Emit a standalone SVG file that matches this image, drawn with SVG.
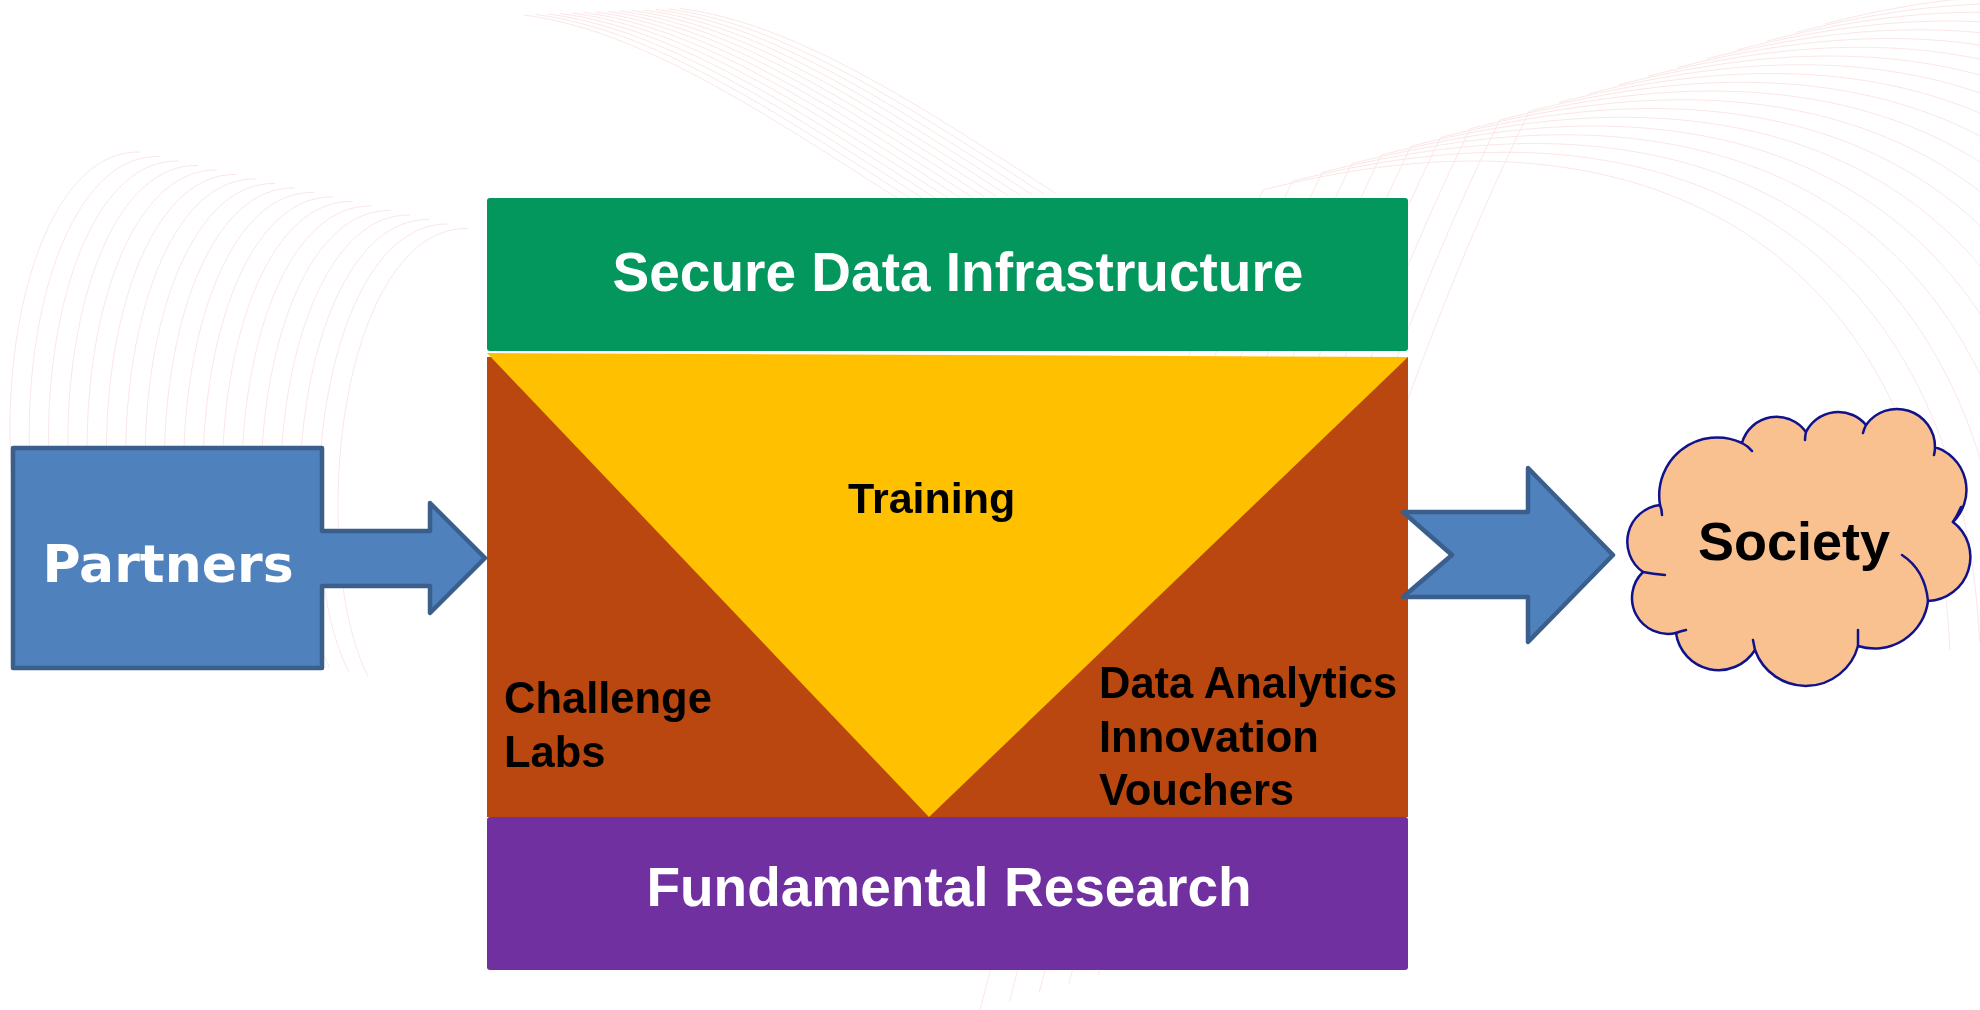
<svg xmlns="http://www.w3.org/2000/svg" xmlns:xlink="http://www.w3.org/1999/xlink" width="1980" height="1010" viewBox="0 0 1980 1010">
<style>
.sw{fill:none;stroke:#ef9a9a;stroke-width:1;opacity:.25}
.lbl{font-family:"Liberation Sans",Arial,sans-serif;font-weight:bold}
.w{fill:#ffffff}
.k{fill:#000000}
.blue{fill:#4f81bd;stroke:#3a5f8c;stroke-width:4.5;stroke-linejoin:round}
.cloud{fill:#f9c090;stroke:#10128c;stroke-width:2.5;stroke-linejoin:round}
.hook{fill:none;stroke:#10128c;stroke-width:2.5;stroke-linecap:round}
</style>
<defs>
<path id="swA" d="M140,152 C60,150 12,280 10,420 C9,500 20,560 40,600"/>
<path id="swB" d="M1263,190 C1650,90 1930,250 1950,650"/>
<path id="swC" d="M524,15 C640,30 760,110 900,200"/>
<path id="swD" d="M1263,190 C1150,420 1060,700 980,1010"/>
</defs>
<rect width="1980" height="1010" fill="#ffffff"/>
<g id="background">
<g class="sw">
<use xlink:href="#swA"/><use xlink:href="#swA" transform="translate(19.3,4.5)"/><use xlink:href="#swA" transform="translate(38.6,9)"/><use xlink:href="#swA" transform="translate(57.9,13.5)"/><use xlink:href="#swA" transform="translate(77.2,18)"/><use xlink:href="#swA" transform="translate(96.5,22.5)"/><use xlink:href="#swA" transform="translate(115.8,27)"/><use xlink:href="#swA" transform="translate(135.1,31.5)"/><use xlink:href="#swA" transform="translate(154.4,36)"/><use xlink:href="#swA" transform="translate(173.7,40.5)"/><use xlink:href="#swA" transform="translate(193,45)"/><use xlink:href="#swA" transform="translate(212.3,49.5)"/><use xlink:href="#swA" transform="translate(231.6,54)"/><use xlink:href="#swA" transform="translate(250.9,58.5)"/><use xlink:href="#swA" transform="translate(270.2,63)"/><use xlink:href="#swA" transform="translate(289.5,67.5)"/><use xlink:href="#swA" transform="translate(308.8,72)"/><use xlink:href="#swA" transform="translate(328.1,76.5)"/>
<use xlink:href="#swB"/><use xlink:href="#swB" transform="translate(29.6,-8.75)"/><use xlink:href="#swB" transform="translate(59.2,-17.5)"/><use xlink:href="#swB" transform="translate(88.8,-26.25)"/><use xlink:href="#swB" transform="translate(118.4,-35)"/><use xlink:href="#swB" transform="translate(148,-43.75)"/><use xlink:href="#swB" transform="translate(177.6,-52.5)"/><use xlink:href="#swB" transform="translate(207.2,-61.25)"/><use xlink:href="#swB" transform="translate(236.8,-70)"/><use xlink:href="#swB" transform="translate(266.4,-78.75)"/><use xlink:href="#swB" transform="translate(296,-87.5)"/><use xlink:href="#swB" transform="translate(325.6,-96.25)"/><use xlink:href="#swB" transform="translate(355.2,-105)"/><use xlink:href="#swB" transform="translate(384.8,-113.75)"/><use xlink:href="#swB" transform="translate(414.4,-122.5)"/><use xlink:href="#swB" transform="translate(444,-131.25)"/><use xlink:href="#swB" transform="translate(473.6,-140)"/><use xlink:href="#swB" transform="translate(503.2,-148.75)"/><use xlink:href="#swB" transform="translate(532.8,-157.5)"/><use xlink:href="#swB" transform="translate(562.4,-166.25)"/>
<use xlink:href="#swC"/><use xlink:href="#swC" transform="translate(12,-0.5)"/><use xlink:href="#swC" transform="translate(24,-1)"/><use xlink:href="#swC" transform="translate(36,-1.5)"/><use xlink:href="#swC" transform="translate(48,-2)"/><use xlink:href="#swC" transform="translate(60,-2.5)"/><use xlink:href="#swC" transform="translate(72,-3)"/><use xlink:href="#swC" transform="translate(84,-3.5)"/><use xlink:href="#swC" transform="translate(96,-4)"/><use xlink:href="#swC" transform="translate(108,-4.5)"/><use xlink:href="#swC" transform="translate(120,-5)"/><use xlink:href="#swC" transform="translate(132,-5.5)"/><use xlink:href="#swC" transform="translate(144,-6)"/><use xlink:href="#swC" transform="translate(156,-6.5)"/>
<use xlink:href="#swD"/><use xlink:href="#swD" transform="translate(29.6,-8.75)"/><use xlink:href="#swD" transform="translate(59.2,-17.5)"/><use xlink:href="#swD" transform="translate(88.8,-26.25)"/><use xlink:href="#swD" transform="translate(118.4,-35)"/><use xlink:href="#swD" transform="translate(148,-43.75)"/><use xlink:href="#swD" transform="translate(177.6,-52.5)"/><use xlink:href="#swD" transform="translate(207.2,-61.25)"/><use xlink:href="#swD" transform="translate(236.8,-70)"/><use xlink:href="#swD" transform="translate(266.4,-78.75)"/>
</g>
</g>
<g id="core-block">
<rect x="487" y="357" width="921" height="460" fill="#ba470f"/>
<polygon points="487,353 1408,357 929,817" fill="#ffc000"/>
</g>
<g id="secure-data-infrastructure">
<rect x="487" y="198" width="921" height="153" rx="3" fill="#03965d"/>
<text class="lbl w" x="958" y="291" font-size="55" text-anchor="middle">Secure Data Infrastructure</text>
</g>
<g id="training">
<text class="lbl k" x="848" y="513" font-size="43">Training</text>
</g>
<g id="challenge-labs">
<text class="lbl k" x="504" y="713" font-size="43.5">Challenge</text>
<text class="lbl k" x="504" y="767" font-size="43.5">Labs</text>
</g>
<g id="data-analytics-innovation-vouchers">
<text class="lbl k" x="1099" y="698" font-size="43.5">Data Analytics</text>
<text class="lbl k" x="1099" y="752" font-size="43.5">Innovation</text>
<text class="lbl k" x="1099" y="805" font-size="43.5">Vouchers</text>
</g>
<g id="fundamental-research">
<rect x="487" y="817" width="921" height="153" rx="3" fill="#7030a0"/>
<text class="lbl w" x="949" y="906" font-size="55" text-anchor="middle">Fundamental Research</text>
</g>
<g id="partners">
<polygon class="blue" points="13,448 322,448 322,531 430,531 430,503 485,558 430,613 430,586 322,586 322,668 13,668"/>
<text x="168" y="582" font-size="52" font-family="'DejaVu Sans',Verdana,sans-serif" font-weight="bold" fill="#ffffff" text-anchor="middle">Partners</text>
</g>
<g id="connectors">
<polygon class="blue" points="1403,512 1528,512 1528,468 1613,555 1528,642 1528,597 1403,597 1452,555"/>
</g>
<g id="society">
<path class="cloud" d="M1660,505 A58,58 0 0 1 1742,443 A36,36 0 0 1 1806,432 A36,36 0 0 1 1866,425 A38,38 0 0 1 1935,447 A45,45 0 0 1 1953,522 A44,44 0 0 1 1928,601 A54,54 0 0 1 1858,646 A54,54 0 0 1 1755,650 A43,43 0 0 1 1676,633 A36,36 0 0 1 1643,572 A37,37 0 0 1 1660,505 Z"/>
<path class="hook" d="M1660,505 q2,5 2,10 M1742,443 q6,3 10,8 M1806,432 q-1,4 -1,8 M1866,425 q-2,4 -3,8 M1935,447 q0,4 -1,8 M1953,522 q4,-6 8,-15 M1928,601 Q1925,570 1902,555 M1858,646 q0,-8 0,-16 M1755,650 q-1,-5 -2,-10 M1676,633 q5,-2 10,-3 M1643,572 q10,2 22,3"/>
<text class="lbl k" x="1794" y="560" font-size="54" text-anchor="middle">Society</text>
</g>
</svg>
